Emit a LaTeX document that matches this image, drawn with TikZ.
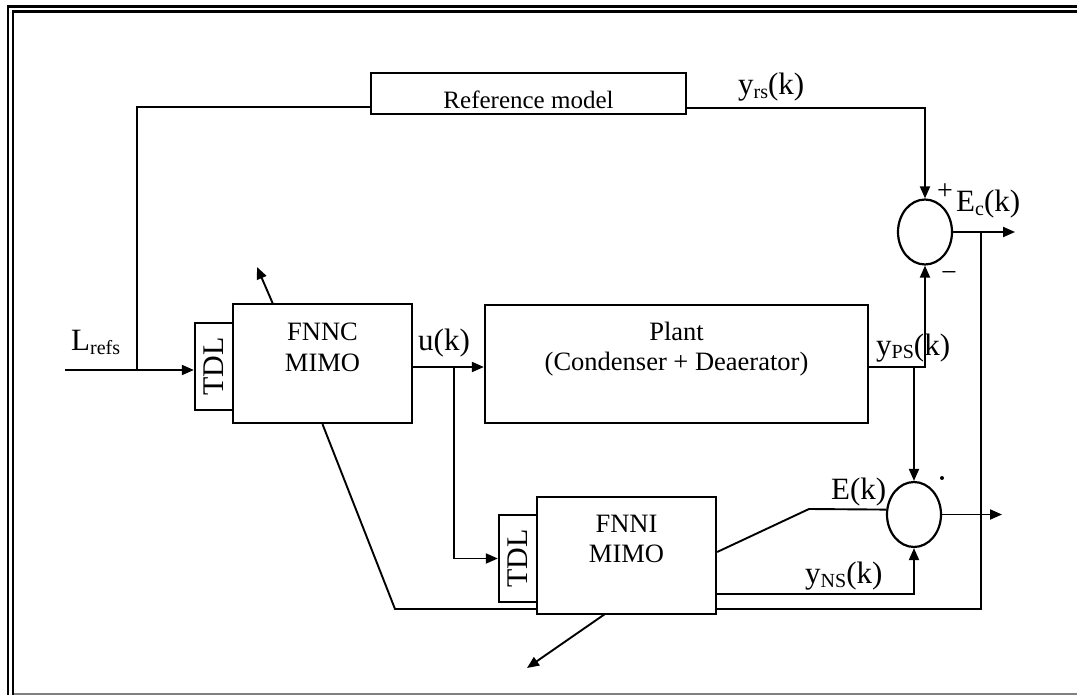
\documentclass[tikz,border=0pt]{standalone}
\usepackage{fontspec}
\setmainfont{Liberation Serif}
\usetikzlibrary{arrows.meta,shapes.geometric}
% lowered, smaller text used for signal subscripts
\newcommand\lowsub[1]{\raisebox{-4pt}{\fontsize{20}{20}\selectfont #1}}

\begin{document}
\begin{tikzpicture}[x=1pt,y=-1pt,
  wire/.style={line width=1.9pt},
  arr/.style={wire,-{Triangle[length=12pt,width=10pt]}},
  blk/.style={draw,line width=2.3pt,fill=white,inner sep=0pt},
  sumj/.style={draw,ellipse,line width=2.2pt,fill=white,inner sep=0pt,
               minimum width=54pt,minimum height=65pt},
  lbl/.style={inner sep=0pt,anchor=base west,font=\fontsize{31}{31}\selectfont},
  btxt/.style={inner sep=0pt,anchor=base,font=\fontsize{26.5}{26.5}\selectfont},
  tdltxt/.style={inner sep=0pt,rotate=90,font=\fontsize{30}{30}\selectfont}
]
\useasboundingbox (0,0) rectangle (1077,695);

% page frame
\draw[line width=2.8pt] (8,695) -- (8,6.2) -- (1077,6.2);
\draw[line width=2.2pt] (13,695) -- (13,11.5) -- (1077,11.5);
\draw[gray,line width=1.5pt] (14,694) -- (1077,694);

% reference model
\node[blk,minimum width=315pt,minimum height=41pt] (refm) at (528.5,93.5) {};
\node[btxt,font=\fontsize{25}{25}\selectfont] (refmt) at (528.5,109) {Reference model};

% controller with its tapped delay line
\node[blk,minimum width=179pt,minimum height=119pt] (fnnc) at (322.5,363.5) {};
\node[blk,minimum width=38pt,minimum height=87pt] (tdlA) at (214,366.5) {};
\node[tdltxt] (tdlAt) at (tdlA) {TDL};
\node[btxt] (fnncA) at (322.5,341) {FNNC};
\node[btxt] (fnncB) at (322.5,371) {MIMO};

% plant
\node[blk,minimum width=383pt,minimum height=118pt] (plant) at (676.5,364) {};
\node[btxt] (plantA) at (676.5,341) {Plant};
\node[btxt] (plantB) at (676.5,370) {(Condenser + Deaerator)};

% summing junctions
\node[sumj] (sumA) at (925,232) {};
\node[sumj] (sumB) at (914,514.5) {};

% junction points
\coordinate (lin) at (65,370);
\coordinate (lj) at (137,370);
\coordinate (rin) at (137,107);
\coordinate (ro) at (686,108);
\coordinate (ecout) at (1015,232);
\coordinate (fbj) at (981,232);
\coordinate (uo) at (412,367);
\coordinate (ub) at (454,367);
\coordinate (po) at (868,367);
\coordinate (pb) at (914,367);
\coordinate (eout) at (1002,514.5);
\coordinate (fb1) at (395,609);
\coordinate (fb2) at (981,609);
\coordinate (ua0) at (273,304);
\coordinate (ua1) at (257,267);

% error feedback to the controller (passes behind the identifier)
\draw[wire] (fnnc.south) -- (fb1) -- (fb2) -- (fbj);

% identifier with its tapped delay line
\node[blk,minimum width=179pt,minimum height=117pt] (fnni) at (626.5,555.5) {};
\node[blk,minimum width=38pt,minimum height=87pt] (tdlB) at (518,558.5) {};
\node[tdltxt] (tdlBt) at (tdlB) {TDL};
\node[btxt] (fnniA) at (626.5,532) {FNNI};
\node[btxt] (fnniB) at (626.5,562) {MIMO};

\coordinate (ea) at (716,552);
\coordinate (ek) at (809,509);
\coordinate (yn) at (716,594);
\coordinate (da0) at (605,614);
\coordinate (da1) at (527,668);

% signal paths
\draw[arr] (lin) -- (lin -| tdlA.west);
\draw[wire] (lj) -- (rin) -- (rin -| refm.west);
\draw[arr] (ro -| refm.east) -| (sumA.north);
\draw[arr] (sumA.east) -- (ecout);
\draw[arr] (uo -| fnnc.east) -- (uo -| plant.west);
\draw[arr] (ub) |- (tdlB.west);
\draw[arr] (po -| plant.east) -| (sumA.south);
\draw[arr] (pb) -- (sumB.north);
\draw[arr] (sumB.east) -- (eout);
\draw[wire] (ea -| fnni.east) -- (ek) -- (sumB.170);
\draw[arr] (yn -| fnni.east) -| (sumB.south);

% weight adaptation arrows
\draw[arr] (ua0) -- (ua1);
\draw[arr] (da0) -- (da1);

% signal labels
\node[lbl] (lref) at (71,350) {L\lowsub{refs}};
\node[lbl] (lu) at (418,350) {u(k)};
\node[lbl] (lyrs) at (738,95) {y\lowsub{rs}(k)};
\node[lbl] (lyps) at (876,355) {y\lowsub{PS}(k)};
\node[lbl] (lec) at (956,212) {E\lowsub{c}(k)};
\node[lbl] (le) at (831,499) {E(k)};
\node[lbl] (lyns) at (805,583) {y\lowsub{NS}(k)};
\node[inner sep=0pt,font=\fontsize{28}{28}\selectfont] (lplus) at (945,192) {+};
\node[inner sep=0pt,font=\fontsize{28}{28}\selectfont] (lminus) at (949,277) {−};
\fill (942,478) circle (2pt);
\end{tikzpicture}
\end{document}
